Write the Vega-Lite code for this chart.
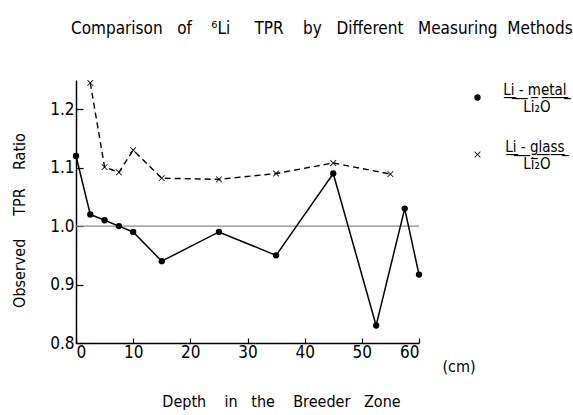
{
  "$schema": "https://vega.github.io/schema/vega-lite/v6.json",
  "width": 343,
  "height": 263,
  "autosize": {"type": "none"},
  "padding": {"left": 76, "top": 80, "right": 154, "bottom": 72},
  "background": "white",
  "config": {
    "font": "DejaVu Sans Condensed, Liberation Sans, sans-serif",
    "view": {"stroke": null},
    "axis": {"grid": false, "domainColor": "black", "domainWidth": 1.5, "tickColor": "black", "tickWidth": 1.2, "labelColor": "black", "titleColor": "black", "labelFont": "DejaVu Sans Condensed, Liberation Sans, sans-serif", "titleFont": "DejaVu Sans Condensed, Liberation Sans, sans-serif", "labelFontSize": 17, "titleFontSize": 16, "titleFontWeight": "normal"},
    "legend": {"labelFont": "DejaVu Sans Condensed, Liberation Sans, sans-serif", "labelColor": "black"},
    "title": {"font": "DejaVu Sans Condensed, Liberation Sans, sans-serif", "color": "black"}
  },
  "title": {
    "text": "Comparison\u00a0\u00a0\u00a0of\u00a0\u00a0\u00a0\u00a0⁶Li\u00a0\u00a0\u00a0\u00a0\u00a0TPR\u00a0\u00a0\u00a0\u00a0by\u00a0\u00a0\u00a0Different\u00a0\u00a0\u00a0Measuring\u00a0\u00a0Methods",
    "anchor": "start",
    "frame": "group",
    "fontSize": 17,
    "fontWeight": "normal",
    "dx": -5,
    "offset": 29,
    "baseline": "alphabetic"
  },
  "data": {
    "values": [
      {"depth": 0, "ratio": 1.12, "series": "metal"},
      {"depth": 2.5, "ratio": 1.02, "series": "metal"},
      {"depth": 5, "ratio": 1.01, "series": "metal"},
      {"depth": 7.5, "ratio": 1.0, "series": "metal"},
      {"depth": 10, "ratio": 0.99, "series": "metal"},
      {"depth": 15, "ratio": 0.94, "series": "metal"},
      {"depth": 25, "ratio": 0.99, "series": "metal"},
      {"depth": 35, "ratio": 0.95, "series": "metal"},
      {"depth": 45, "ratio": 1.09, "series": "metal"},
      {"depth": 52.5, "ratio": 0.83, "series": "metal"},
      {"depth": 57.5, "ratio": 1.03, "series": "metal"},
      {"depth": 60, "ratio": 0.917, "series": "metal"},
      {"depth": 2.5, "ratio": 1.245, "series": "glass"},
      {"depth": 5, "ratio": 1.101, "series": "glass"},
      {"depth": 7.5, "ratio": 1.092, "series": "glass"},
      {"depth": 10, "ratio": 1.13, "series": "glass"},
      {"depth": 15, "ratio": 1.082, "series": "glass"},
      {"depth": 25, "ratio": 1.08, "series": "glass"},
      {"depth": 35, "ratio": 1.09, "series": "glass"},
      {"depth": 45, "ratio": 1.108, "series": "glass"},
      {"depth": 55, "ratio": 1.089, "series": "glass"}
    ]
  },
  "encoding": {
    "x": {"field": "depth", "type": "quantitative", "scale": {"domain": [0, 60], "nice": false},
      "axis": {"values": [0, 10, 20, 30, 40, 50, 60], "tickSize": -5, "labelBaseline": "alphabetic", "labelPadding": 19,
        "title": "Depth\u00a0\u00a0\u00a0\u00a0in\u00a0\u00a0\u00a0the\u00a0\u00a0\u00a0\u00a0Breeder\u00a0\u00a0\u00a0Zone",
        "titleX": 205, "titleY": 63, "titleBaseline": "alphabetic", "titleAnchor": "middle", "titleAlign": "center"}},
    "y": {"field": "ratio", "type": "quantitative", "scale": {"domain": [0.8, 1.25], "nice": false, "zero": false},
      "axis": {"values": [0.8, 0.9, 1.0, 1.1, 1.2], "format": ".1f", "tickSize": -7, "labelPadding": 9,
        "title": "Observed\u00a0\u00a0\u00a0\u00a0\u00a0TPR\u00a0\u00a0\u00a0\u00a0Ratio",
        "titleX": -52, "titleY": 140, "titleAngle": -90, "titleBaseline": "alphabetic", "titleAlign": "center", "titleAnchor": "middle"}}
  },
  "layer": [
    {
      "data": {"values": [{"ref": 1.0}]},
      "mark": {"type": "rule", "color": "#888888", "strokeWidth": 1.1},
      "encoding": {"y": {"field": "ref", "type": "quantitative"}, "x": null}
    },
    {
      "transform": [{"filter": "datum.series == 'metal'"}],
      "mark": {"type": "line", "color": "black", "strokeWidth": 1.5},
      "encoding": {}
    },
    {
      "transform": [{"filter": "datum.series == 'glass'"}],
      "mark": {"type": "line", "color": "black", "strokeWidth": 1.4, "strokeDash": [6, 4]},
      "encoding": {}
    },
    {
      "mark": {"type": "point", "filled": true, "color": "black", "opacity": 1},
      "encoding": {
        "shape": {"field": "series", "type": "nominal",
          "scale": {"domain": ["metal", "glass"], "range": ["circle", "M-1,-0.82L-0.82,-1L0,-0.18L0.82,-1L1,-0.82L0.18,0L1,0.82L0.82,1L0,0.18L-0.82,1L-1,0.82L-0.18,0Z"]},
          "legend": {
            "title": null, "orient": "none", "legendX": 394, "legendY": 10, "padding": 0,
            "labelFontSize": 15, "labelAlign": "center", "labelBaseline": "bottom",
            "labelOffset": 52, "rowPadding": 24, "symbolFillColor": "black", "symbolStrokeWidth": 0, "symbolSize": 40, "symbolOpacity": 1,
            "labelLimit": 200,
            "labelExpr": "datum.value == 'metal' ? ['L\u0332i\u0332 \u0332-\u0332 \u0332m\u0332e\u0332t\u0332a\u0332l\u0332\u00a0\u0332', 'Li₂O'] : ['L\u0332i\u0332 \u0332-\u0332 \u0332g\u0332l\u0332a\u0332s\u0332s\u0332\u00a0\u0332', 'Li₂O']"
          }
        },
        "size": {"value": 40}
      }
    },
    {
      "data": {"values": [{"x": 60, "y": 0.8, "unit": "(cm)"}]},
      "mark": {"type": "text", "fontSize": 16, "fontWeight": "normal", "dx": 40, "dy": 29, "baseline": "alphabetic", "color": "black"},
      "encoding": {"x": {"field": "x", "type": "quantitative"}, "y": {"field": "y", "type": "quantitative"}, "text": {"field": "unit"}}
    }
  ]
}
